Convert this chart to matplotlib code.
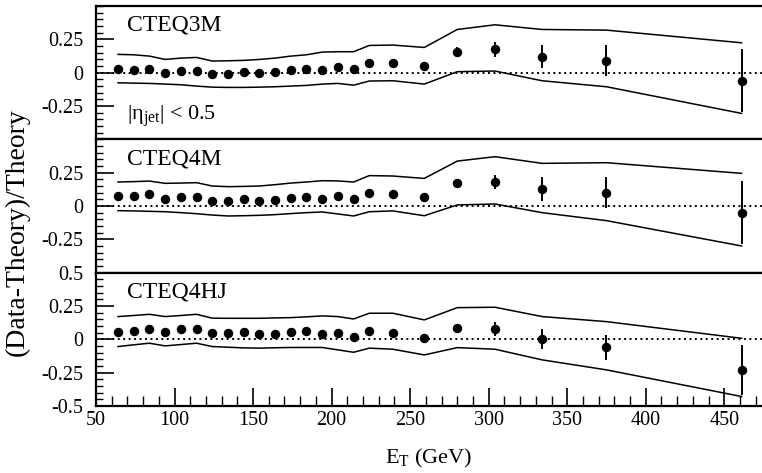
import matplotlib
matplotlib.use("Agg")
import matplotlib.pyplot as plt
from matplotlib.ticker import MultipleLocator, FixedLocator

# bin centres (GeV)
et = [64, 74, 84, 94, 104, 114, 124, 134, 144, 154, 164, 174, 184, 194, 204,
      214, 224, 239, 259, 280, 304, 334, 375, 461]

# CTEQ3M
pts_3m = [0.025, 0.02, 0.027, 0.0, 0.01, 0.015, -0.01, -0.01, 0.003, 0.0, 0.002,
          0.02, 0.03, 0.02, 0.045, 0.025, 0.07, 0.075, 0.05, 0.158, 0.175, 0.12,
          0.09, -0.06]
err_3m = [0.005, 0.005, 0.005, 0.005, 0.006, 0.006, 0.007, 0.007, 0.008, 0.008,
          0.009, 0.01, 0.011, 0.012, 0.013, 0.015, 0.016, 0.018, 0.022, 0.035,
          0.055, 0.088, 0.115, 0.235]
up_3m = [0.138, 0.135, 0.125, 0.1, 0.11, 0.115, 0.088, 0.09, 0.093, 0.1, 0.11,
         0.125, 0.135, 0.155, 0.158, 0.158, 0.205, 0.208, 0.19, 0.325, 0.36,
         0.325, 0.32, 0.225]
lo_3m = [-0.075, -0.078, -0.08, -0.085, -0.09, -0.1, -0.108, -0.11, -0.11,
         -0.108, -0.105, -0.1, -0.095, -0.085, -0.08, -0.093, -0.062, -0.06,
         -0.085, 0.008, 0.013, -0.06, -0.105, -0.305]

# CTEQ4M
pts_4m = [0.075, 0.075, 0.088, 0.052, 0.065, 0.07, 0.04, 0.035, 0.052, 0.04,
          0.045, 0.057, 0.065, 0.052, 0.075, 0.05, 0.1, 0.09, 0.065, 0.17, 0.18,
          0.125, 0.1, -0.05]
err_4m = [0.005, 0.005, 0.005, 0.005, 0.006, 0.006, 0.007, 0.007, 0.008, 0.008,
          0.009, 0.01, 0.011, 0.012, 0.013, 0.015, 0.016, 0.018, 0.022, 0.035,
          0.055, 0.089, 0.115, 0.235]
up_4m = [0.18, 0.183, 0.187, 0.17, 0.172, 0.175, 0.15, 0.145, 0.147, 0.15, 0.16,
         0.172, 0.18, 0.19, 0.188, 0.18, 0.228, 0.225, 0.207, 0.337, 0.37, 0.32,
         0.325, 0.245]
lo_4m = [-0.035, -0.037, -0.04, -0.043, -0.05, -0.058, -0.068, -0.075, -0.073,
         -0.07, -0.065, -0.057, -0.05, -0.045, -0.06, -0.075, -0.043, -0.037,
         -0.073, 0.008, 0.015, -0.05, -0.11, -0.3]

# CTEQ4HJ
pts_hj = [0.052, 0.062, 0.077, 0.057, 0.075, 0.075, 0.05, 0.05, 0.057, 0.04,
          0.04, 0.057, 0.062, 0.04, 0.045, 0.02, 0.062, 0.05, 0.007, 0.082,
          0.077, 0.0, -0.06, -0.23]
err_hj = [0.005, 0.005, 0.005, 0.005, 0.006, 0.006, 0.007, 0.007, 0.008, 0.008,
          0.009, 0.01, 0.011, 0.012, 0.013, 0.015, 0.016, 0.018, 0.022, 0.033,
          0.054, 0.075, 0.095, 0.19]
up_hj = [0.17, 0.178, 0.187, 0.17, 0.178, 0.187, 0.158, 0.157, 0.157, 0.157,
         0.16, 0.162, 0.168, 0.175, 0.17, 0.152, 0.195, 0.195, 0.145, 0.237,
         0.24, 0.17, 0.132, 0.007]
lo_hj = [-0.055, -0.042, -0.03, -0.05, -0.04, -0.03, -0.055, -0.06, -0.065,
         -0.067, -0.064, -0.062, -0.062, -0.062, -0.08, -0.098, -0.067, -0.075,
         -0.118, -0.063, -0.075, -0.155, -0.23, -0.43]

panels = [
    ("CTEQ3M", pts_3m, err_3m, up_3m, lo_3m),
    ("CTEQ4M", pts_4m, err_4m, up_4m, lo_4m),
    ("CTEQ4HJ", pts_hj, err_hj, up_hj, lo_hj),
]

plt.rcParams['font.family'] = ['Liberation Serif', 'DejaVu Serif']
plt.rcParams['mathtext.fontset'] = 'custom'
plt.rcParams['mathtext.rm'] = 'Liberation Serif'
plt.rcParams['mathtext.it'] = 'Liberation Serif'

fig, axes = plt.subplots(3, 1, figsize=(7.62, 4.73), dpi=100, sharex=True)
fig.subplots_adjust(left=0.126, right=1.0, top=0.987, bottom=0.142, hspace=0)

for i, (ax, (name, pts, err, up, lo)) in enumerate(zip(axes, panels)):
    ax.plot(et, up, color='black', lw=1.1)
    ax.plot(et, lo, color='black', lw=1.1)
    ax.axhline(0, color='black', lw=1.4, linestyle=(0, (1, 1.8)))
    ax.errorbar(et, pts, yerr=err, fmt='o', color='black', ms=5.8,
                elinewidth=1.4, capsize=0)
    ax.text(70, 0.435, name, fontsize=17, va='top', ha='left')
    ax.set_ylim(-0.5, 0.5)
    ax.set_xlim(50, 474)
    if i < 2:
        ax.yaxis.set_major_locator(FixedLocator([-0.25, 0, 0.25]))
    else:
        ax.yaxis.set_major_locator(FixedLocator([-0.5, -0.25, 0, 0.25, 0.5]))
    ax.yaxis.set_minor_locator(MultipleLocator(0.05))
    ax.set_yticklabels([f"{v:g}" for v in ax.get_yticks()])
    ax.tick_params(axis='y', which='both', direction='in', right=False,
                   labelsize=14.5, pad=9)
    ax.tick_params(axis='y', which='major', length=13, width=1.2)
    ax.tick_params(axis='y', which='minor', length=5, width=1.0)
    ax.spines['right'].set_visible(False)
    for s in ('left', 'top', 'bottom'):
        ax.spines[s].set_linewidth(1.6)
    if i < 2:
        ax.tick_params(axis='x', which='both', bottom=False, top=False)
    else:
        ax.xaxis.set_major_locator(MultipleLocator(50))
        ax.xaxis.set_minor_locator(MultipleLocator(10))
        ax.tick_params(axis='x', which='both', direction='in', top=False,
                       labelsize=14.5, pad=4)
        ax.tick_params(axis='x', which='major', length=13, width=1.2)
        ax.tick_params(axis='x', which='minor', length=7, width=1.0)

axes[0].text(70, -0.33, r"$|\eta_{\rm jet}|$ < 0.5", fontsize=16, va='center',
             ha='left')
axes[2].set_xlabel(r"E$_{\rm T}$ (GeV)", fontsize=16, labelpad=12)
fig.text(0.022, 0.51, "(Data-Theory)/Theory", rotation=90, fontsize=20,
         va='center', ha='center')

fig.savefig("out.png", dpi=100)
